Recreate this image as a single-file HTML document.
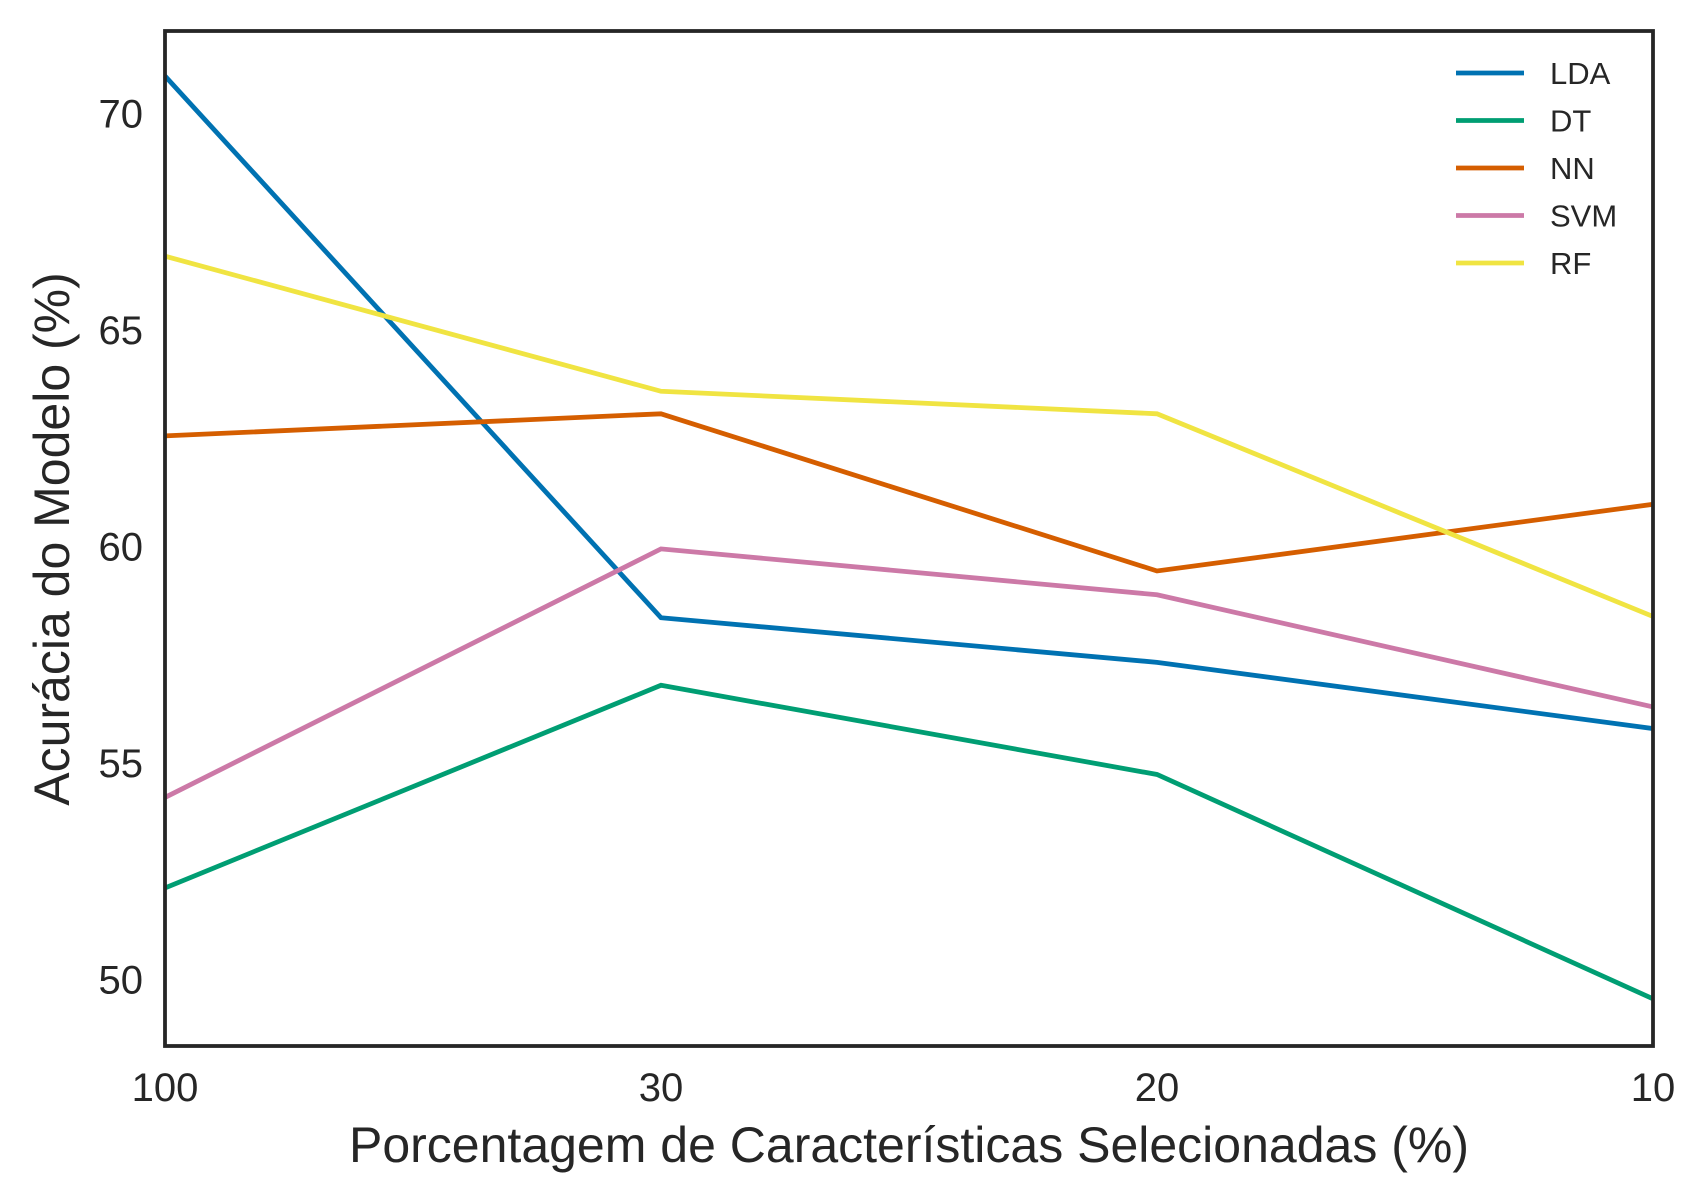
<!DOCTYPE html>
<html><head><meta charset="utf-8"><style>
html,body{margin:0;padding:0;background:#fff;}
svg{display:block;font-family:"Liberation Sans",Arial,sans-serif;}
</style></head><body>
<svg id="chart" width="1705" height="1202" viewBox="0 0 1705 1202"></svg>
<script>
const categories = ["100","30","20","10"];
const seriesNames = ["LDA","DT","NN","SVM","RF"];
const seriesColors = ["#0072b2","#009e73","#d55e00","#cc79a7","#f0e442"];
const ldaValues = [70.86,58.35,57.32,55.79];
const dtValues = [52.11,56.79,54.73,49.55];
const nnValues = [62.55,63.06,59.43,60.97];
const svmValues = [54.2,59.94,58.88,56.29];
const rfValues = [66.7,63.58,63.06,58.38];
const yTicks = [50,55,60,65,70];
const allSeries = [ldaValues,dtValues,nnValues,svmValues,rfValues];

const NS="http://www.w3.org/2000/svg";
const svg=document.getElementById('chart');
const L=165,R=1653,T=31,B=1046,yMin=48.46,yMax=71.9;
const xs=i=>L+(R-L)*i/(categories.length-1);
const ys=v=>B-(v-yMin)/(yMax-yMin)*(B-T);
function mk(tag,attrs,parent){const e=document.createElementNS(NS,tag);for(const k in attrs)e.setAttribute(k,attrs[k]);(parent||svg).appendChild(e);return e;}

const lines=mk('g',{});


allSeries.forEach((vals,si)=>{
  const p=mk('polyline',{points:vals.map((v,i)=>xs(i)+','+ys(v)).join(' '),fill:'none',stroke:seriesColors[si],'stroke-width':4.8,'stroke-linejoin':'miter'},lines);
  
  
});
const frame=mk('rect',{x:L,y:T,width:R-L,height:B-T,fill:'none',stroke:'#262626','stroke-width':3.8});



yTicks.forEach(t=>{
  const tx=mk('text',{x:143,y:ys(t)+14,'text-anchor':'end','font-size':40,fill:'#262626'});
  tx.textContent=t;
  
  
});
categories.forEach((c,i)=>{
  const tx=mk('text',{x:xs(i),y:1101,'text-anchor':'middle','font-size':40,fill:'#262626'});
  tx.textContent=c;
  
  
});
const xl=mk('text',{x:909,y:1162,'text-anchor':'middle','font-size':50,fill:'#262626'});
xl.textContent='Porcentagem de Características Selecionadas (%)';


const yl=mk('text',{x:0,y:0,'text-anchor':'middle','font-size':50,fill:'#262626',transform:'translate(69,539) rotate(-90)'});
yl.textContent='Acurácia do Modelo (%)';



const leg=mk('g',{});


seriesNames.forEach((n,i)=>{
  const y=73+i*47.5;
  const g=mk('g',{},leg);
  
  
  mk('line',{x1:1456,x2:1524,y1:y,y2:y,stroke:seriesColors[i],'stroke-width':4.8},g);
  const t=mk('text',{x:1550,y:y+11,'font-size':31,fill:'#262626'},g);
  t.textContent=n;
});
</script>
</body></html>
